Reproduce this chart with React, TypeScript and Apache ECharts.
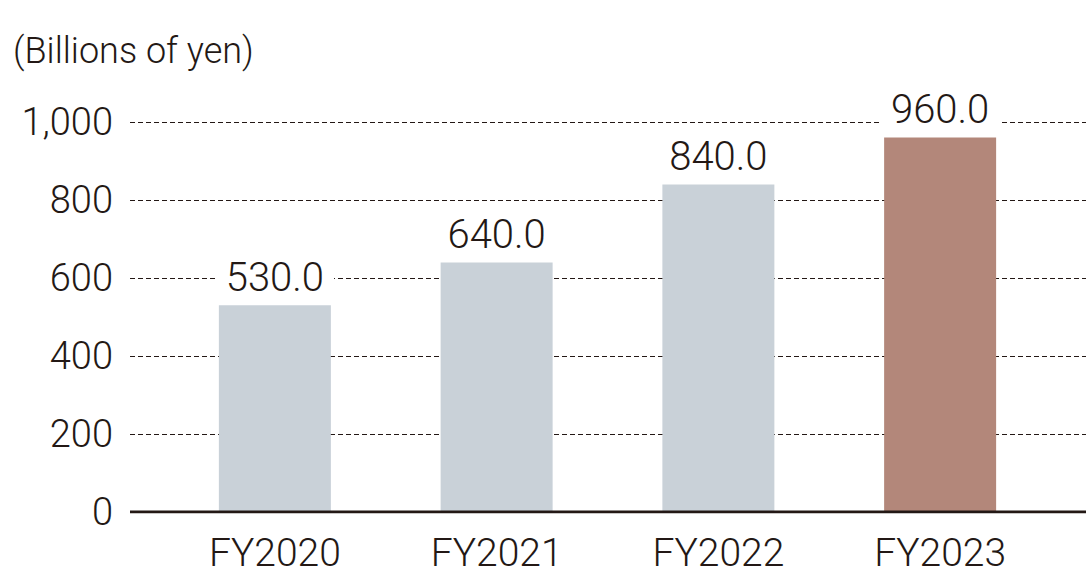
import React, { useEffect, useRef } from "react";
import * as echarts from "echarts";

const categories = ["FY2020", "FY2021", "FY2022", "FY2023"];
const values = [530.0, 640.0, 840.0, 960.0];
const barColors = ["#C9D1D8", "#C9D1D8", "#C9D1D8", "#B3877A"];
const yTicks = { min: 0, max: 1000, interval: 200 };
const unitLabel = "(Billions of yen)";

const FONT = "Roboto";
const TEXT = "#231815";

export default function App() {
  const ref = useRef<HTMLDivElement>(null);
  useEffect(() => {
    document.body.style.margin = "0";
    const chart = echarts.init(ref.current!, null, { renderer: "svg" });
    chart.setOption({
      animation: false,
      backgroundColor: "#ffffff",
      title: {
        text: unitLabel,
        left: 8,
        top: 28,
        textStyle: { fontFamily: FONT, fontWeight: 300, fontSize: 36, color: TEXT },
      },
      grid: [
        { left: 130, right: 0, top: 122, bottom: 64 },
        { left: 164, right: 35, top: 122, bottom: 64 },
      ],
      xAxis: [
        {
          type: "value",
          gridIndex: 0,
          min: 0,
          max: 1,
          show: true,
          axisLine: { show: false },
          axisTick: { show: false },
          axisLabel: { show: false },
          splitLine: { show: false },
        },
        {
          type: "category",
          gridIndex: 1,
          data: categories,
          axisLine: { show: false },
          axisTick: { show: false },
          axisLabel: {
            margin: 25,
            fontFamily: FONT,
            fontWeight: 300,
            fontSize: 39,
            lineHeight: 32,
            color: TEXT,
          },
        },
      ],
      yAxis: [
        {
          type: "value",
          gridIndex: 0,
          min: yTicks.min,
          max: yTicks.max,
          interval: yTicks.interval,
          axisLine: { show: false },
          axisTick: { show: false },
          axisLabel: {
            margin: 17,
            fontFamily: FONT,
            fontWeight: 300,
            fontSize: 38,
            color: TEXT,
            formatter: (v: number) => v.toLocaleString("en-US"),
          },
          splitLine: {
            show: true,
            lineStyle: { color: TEXT, width: 1, type: [5, 3] },
          },
        },
        {
          type: "value",
          gridIndex: 1,
          min: yTicks.min,
          max: yTicks.max,
          interval: yTicks.interval,
          show: false,
          splitLine: { show: false },
        },
      ],
      series: [
        {
          type: "line",
          xAxisIndex: 0,
          yAxisIndex: 0,
          data: [
            [0, 0],
            [1, 0],
          ],
          symbol: "none",
          lineStyle: { color: TEXT, width: 3 },
          silent: true,
          z: 5,
        },
        {
          type: "bar",
          xAxisIndex: 1,
          yAxisIndex: 1,
          barWidth: 112,
          data: values.map((v, i) => ({ value: v, itemStyle: { color: barColors[i] } })),
          label: {
            show: true,
            position: "top",
            distance: 8,
            formatter: (p: any) => Number(p.value).toFixed(1),
            fontFamily: FONT,
            fontWeight: 300,
            fontSize: 40,
            color: TEXT,
            backgroundColor: "#ffffff",
            padding: [0, 10],
          },
          z: 3,
        },
      ],
    });
    return () => chart.dispose();
  }, []);
  return <div ref={ref} style={{ width: 1086, height: 576 }} />;
}
